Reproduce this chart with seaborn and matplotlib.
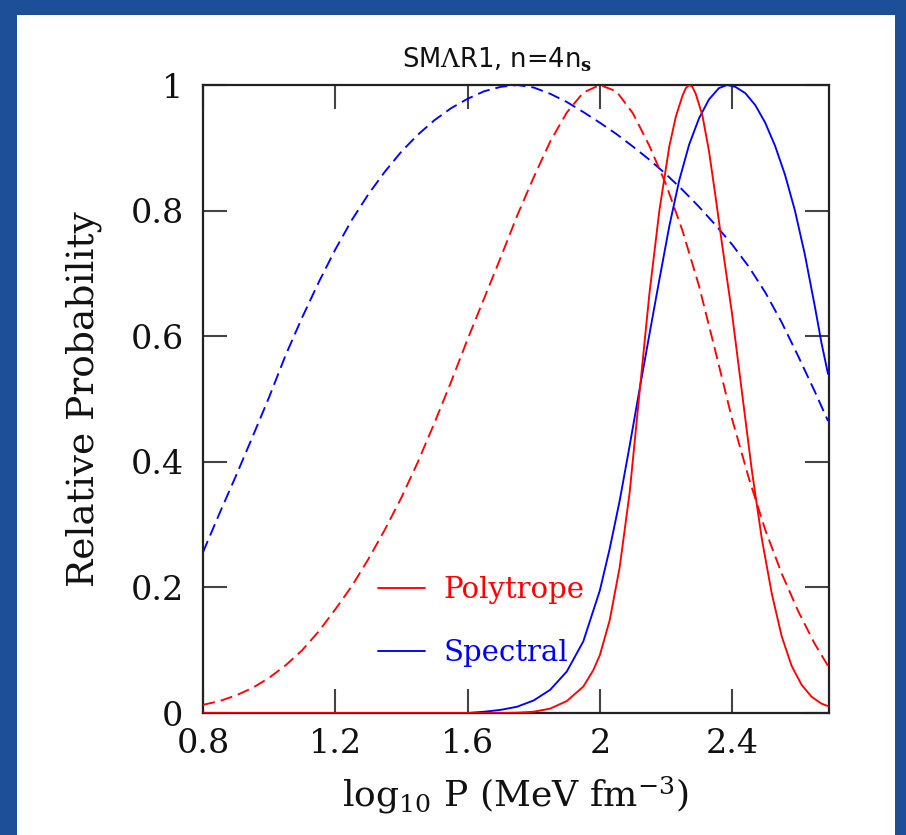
import matplotlib
matplotlib.use("Agg")
import matplotlib.pyplot as plt
import seaborn as sns
import pandas as pd
from matplotlib.patches import Rectangle
from matplotlib.lines import Line2D

# ---- data ----
poly_dashed_x = [0.80, 0.85, 0.90, 0.95, 1.00, 1.05, 1.10, 1.15, 1.20, 1.25, 1.30, 1.35, 1.40, 1.45,
                 1.50, 1.55, 1.60, 1.65, 1.70, 1.75, 1.80, 1.85, 1.90, 1.95, 2.00, 2.05, 2.10, 2.15,
                 2.20, 2.25, 2.30, 2.35, 2.40, 2.45, 2.50, 2.55, 2.60, 2.65, 2.69]
poly_dashed_y = [0.013, 0.019, 0.028, 0.040, 0.056, 0.076, 0.100, 0.130, 0.165, 0.202, 0.245, 0.292, 0.343, 0.400,
                 0.462, 0.527, 0.595, 0.660, 0.725, 0.792, 0.853, 0.910, 0.956, 0.988, 1.000, 0.990, 0.955, 0.903,
                 0.842, 0.768, 0.680, 0.575, 0.468, 0.375, 0.292, 0.222, 0.162, 0.110, 0.075]

spec_dashed_x = [0.80, 0.85, 0.90, 0.95, 1.00, 1.05, 1.10, 1.15, 1.20, 1.25, 1.30, 1.35, 1.40, 1.45,
                 1.50, 1.55, 1.60, 1.65, 1.70, 1.75, 1.80, 1.85, 1.90, 1.95, 2.00, 2.05, 2.10, 2.15,
                 2.20, 2.25, 2.30, 2.35, 2.40, 2.45, 2.50, 2.55, 2.60, 2.65, 2.69]
spec_dashed_y = [0.256, 0.318, 0.378, 0.440, 0.503, 0.570, 0.630, 0.686, 0.738, 0.785, 0.826, 0.862, 0.894, 0.921,
                 0.944, 0.963, 0.978, 0.990, 0.997, 1.000, 0.996, 0.986, 0.973, 0.957, 0.940, 0.922, 0.902, 0.881,
                 0.858, 0.833, 0.806, 0.777, 0.746, 0.711, 0.670, 0.622, 0.568, 0.512, 0.465]

poly_x = [0.80, 1.70, 1.75, 1.80, 1.85, 1.90, 1.95, 1.98, 2.00, 2.03, 2.06, 2.09, 2.12, 2.15, 2.18, 2.21,
          2.23, 2.25, 2.26, 2.27, 2.28, 2.29, 2.31, 2.33, 2.35, 2.37, 2.40, 2.43, 2.46, 2.49, 2.52, 2.55, 2.58,
          2.61, 2.64, 2.67, 2.69]
poly_y = [0.0, 0.0, 0.0005, 0.002, 0.007, 0.019, 0.042, 0.068, 0.092, 0.148, 0.232, 0.350, 0.510, 0.668, 0.800, 0.902,
          0.950, 0.983, 0.995, 1.000, 0.997, 0.986, 0.952, 0.895, 0.822, 0.745, 0.635, 0.510, 0.385, 0.277, 0.190,
          0.122, 0.075, 0.045, 0.026, 0.015, 0.011]

spec_x = [0.80, 1.60, 1.65, 1.70, 1.75, 1.80, 1.85, 1.90, 1.95, 2.00, 2.03, 2.06, 2.09, 2.12, 2.15, 2.18,
          2.21, 2.24, 2.27, 2.30, 2.33, 2.36, 2.385, 2.41, 2.44, 2.47, 2.50, 2.53, 2.56, 2.59, 2.62,
          2.65, 2.67, 2.69]
spec_y = [0.0, 0.0, 0.002, 0.005, 0.010, 0.020, 0.037, 0.066, 0.114, 0.195, 0.262, 0.338, 0.425, 0.515, 0.603, 0.690,
          0.775, 0.848, 0.905, 0.947, 0.977, 0.995, 1.000, 0.997, 0.987, 0.968, 0.940, 0.903, 0.857, 0.800, 0.730,
          0.648, 0.590, 0.540]

xticks = [0.8, 1.2, 1.6, 2.0, 2.4]
xticklabels = ["0.8", "1.2", "1.6", "2", "2.4"]
yticks = [0, 0.2, 0.4, 0.6, 0.8, 1.0]
yticklabels = ["0", "0.2", "0.4", "0.6", "0.8", "1"]
series_labels = ["Polytrope", "Spectral"]

# ---- style ----
sns.set_style("ticks")
plt.rcParams["font.family"] = ["DejaVu Serif"]
plt.rcParams["mathtext.fontset"] = "dejavuserif"

fig = plt.figure(figsize=(9.06, 8.35), dpi=100, facecolor="#1c4f98")
fig.patches.append(Rectangle((17 / 906, 0), (895 - 17) / 906, (835 - 15) / 835,
                             transform=fig.transFigure, facecolor="white", edgecolor="none", zorder=-5))
ax = fig.add_axes([203 / 906, 1 - 713 / 835, (829 - 203) / 906, (713 - 85) / 835])
ax.set_zorder(2)
ax.set_facecolor("white")

lw = 1.35
dash = (0, (6.5, 3.2))
sns.lineplot(x=spec_dashed_x, y=spec_dashed_y, ax=ax, color="blue", lw=lw, linestyle=dash, legend=False, zorder=3)
sns.lineplot(x=poly_dashed_x, y=poly_dashed_y, ax=ax, color="red", lw=lw, linestyle=dash, legend=False, zorder=3)
sns.lineplot(x=spec_x, y=spec_y, ax=ax, color="blue", lw=lw, legend=False, zorder=3)
sns.lineplot(x=poly_x, y=poly_y, ax=ax, color="red", lw=lw, legend=False, zorder=3)

ax.set_xlim(0.8, 2.693)
ax.set_ylim(0, 1)
ax.set_xticks(xticks)
ax.set_xticklabels(xticklabels)
ax.set_yticks(yticks)
ax.set_yticklabels(yticklabels)
ax.tick_params(axis="both", which="major", direction="in", length=17, width=1.5, color="#444444",
               labelsize=24, top=True, right=True, labelcolor="#111111")
ax.tick_params(axis="x", pad=11)
ax.tick_params(axis="y", pad=14)
for s in ax.spines.values():
    s.set_linewidth(1.6)
    s.set_color("#222222")
    s.set_visible(True)

ax.set_ylabel("Relative Probability", fontsize=27, color="#111111")
ax.yaxis.set_label_coords(-0.162, 0.5)
ax.set_xlabel(r"log$_{10}$ P (MeV fm$^{-3}$)", fontsize=26, color="#111111")
ax.xaxis.set_label_coords(0.498, -0.098)

ax.text(0.47, 1.027, r"SM$\Lambda$R1, n=4n$_\mathbf{s}$", transform=ax.transAxes, ha="center",
        va="baseline", fontsize=18.5, family=["DejaVu Sans"], color="#111111")

handles = [Line2D([], [], color="red", lw=lw), Line2D([], [], color="blue", lw=lw)]
leg = ax.legend(handles, series_labels, loc="upper left", bbox_to_anchor=(0.28, 0.218),
                frameon=False, fontsize=21, handlelength=1.6, handletextpad=0.62,
                labelspacing=1.2, borderpad=0, borderaxespad=0, labelcolor="linecolor")

fig.savefig("out.png", dpi=100, facecolor=fig.get_facecolor())
